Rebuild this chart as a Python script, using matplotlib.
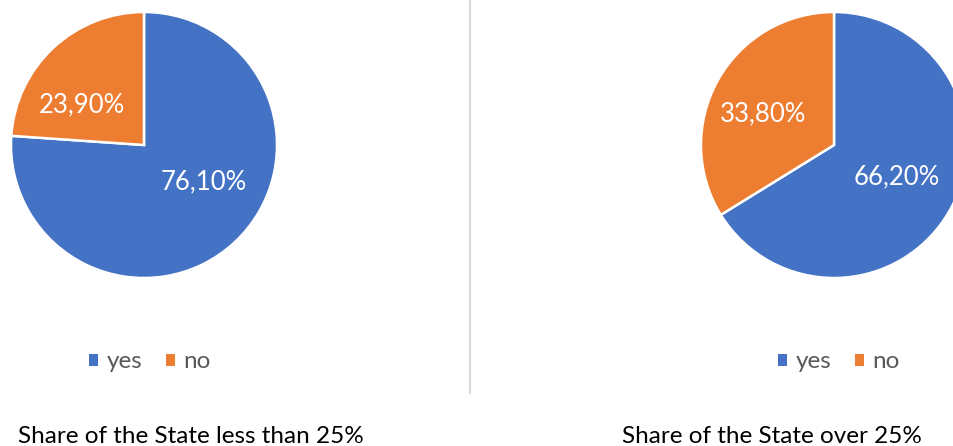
import math
import matplotlib
matplotlib.use("Agg")
import matplotlib.pyplot as plt
from matplotlib.lines import Line2D
from matplotlib.patches import Patch

plt.rcParams['font.family'] = ['Lato', 'DejaVu Sans']

categories = ["yes", "no"]
share_under = [76.1, 23.9]   # share of the State less than 25%
share_over = [66.2, 33.8]    # share of the State over 25%
titles = ["Share of the State less than 25%", "Share of the State over 25%"]
colors = ["#4472C4", "#ED7D31"]

W, H = 954, 446
fig = plt.figure(figsize=(W / 100, H / 100), dpi=100)

def px_axes(cx, cy, r):
    # square axes of radius r (pixels) centred at cx, cy (pixels from top-left)
    return fig.add_axes([(cx - r) / W, (H - cy - r) / H, 2 * r / W, 2 * r / H])

def fmt(p):
    return "{0:.2f}%".format(p).replace(".", ",")

# label positions inside each pie, (angle in degrees, fraction of radius)
label_pos = [[(-31.7, 0.53), (147.0, 0.56)],
             [(-27.0, 0.53), (156.0, 0.58)]]
pies = [(144, 145), (834, 145)]
legend_x = [150, 839]
title_x = [191, 772]
R = 133

# plain square swatches for the legends
handles = [Patch(facecolor=c, edgecolor="none") for c in colors]

for i, vals in enumerate([share_under, share_over]):
    ax = px_axes(pies[i][0], pies[i][1], R)
    ax.pie(vals, colors=colors, startangle=90, counterclock=False,
           radius=1, wedgeprops=dict(edgecolor="white", linewidth=1.8))
    ax.set_xlim(-1, 1)
    ax.set_ylim(-1, 1)
    ax.set_axis_off()
    for v, (ang, d) in zip(vals, label_pos[i]):
        a = math.radians(ang)
        ax.text(d * math.cos(a), d * math.sin(a), fmt(v), color="white",
                fontsize=18.5, ha="center", va="center")
    fig.legend(handles, categories, loc="center",
               bbox_to_anchor=(legend_x[i] / W, (H - 362) / H),
               ncol=2, frameon=False, fontsize=17.5, labelcolor="#595959",
               handlelength=0.36, handleheight=0.36, handletextpad=0.35,
               columnspacing=1.0)
    fig.text(title_x[i] / W, (H - 443) / H, titles[i], ha="center", va="baseline",
             fontsize=17.5, color="black")

# divider between the two charts
fig.add_artist(Line2D([470 / W, 470 / W], [1, (H - 393) / H],
                      color="#d9d9d9", linewidth=1.5))

fig.savefig("out.png", dpi=100, facecolor="white")
